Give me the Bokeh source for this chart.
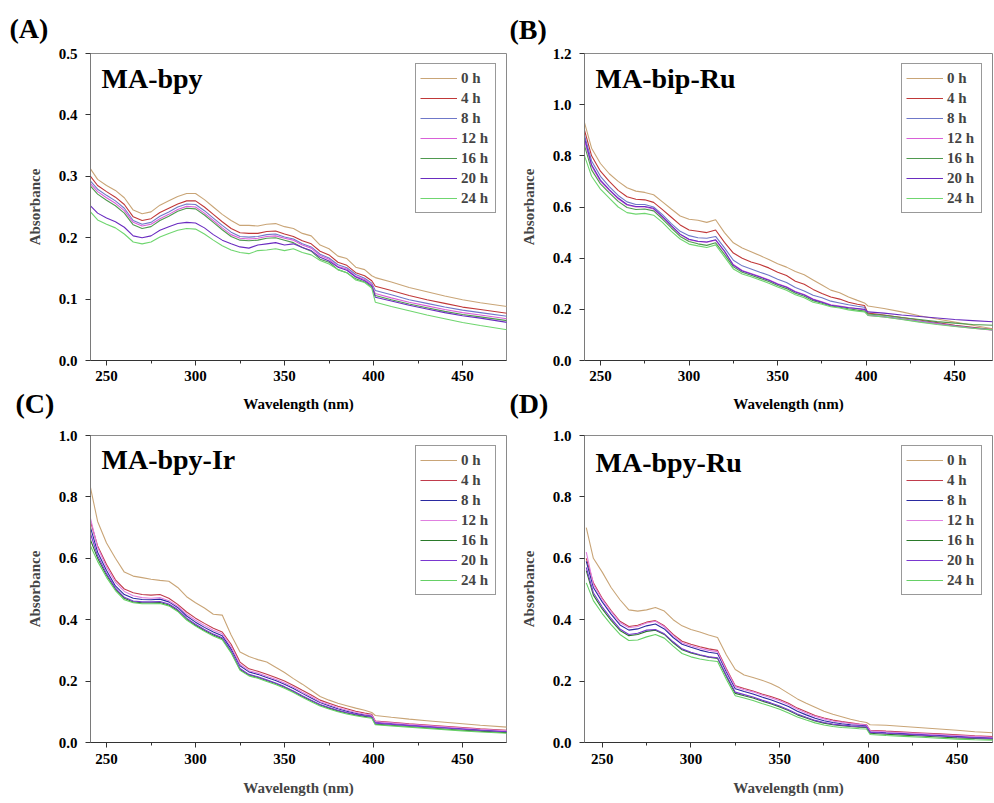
from bokeh.plotting import figure
from bokeh.layouts import gridplot
from bokeh.models import (Range1d, Label, Title, Legend, LegendItem, SingleIntervalTicker,
                          FixedTicker, NumeralTickFormatter)
from bokeh.embed import file_html
from bokeh.resources import INLINE

# ---------------- data ----------------
WAVELENGTH = [241, 245, 250, 255, 260, 265, 270, 275, 280, 285,
              290, 295, 300, 305, 310, 315, 320, 325, 330, 335,
              340, 345, 350, 355, 360, 365, 370, 375, 380, 385,
              390, 395, 399, 401, 410, 420, 430, 440, 450, 460, 475]
HOURS = ["0 h", "4 h", "8 h", "12 h", "16 h", "20 h", "24 h"]

Y_TICKS_A = [0.0, 0.1, 0.2, 0.3, 0.4, 0.5]
Y_TICKS_B = [0.0, 0.2, 0.4, 0.6, 0.8, 1.0, 1.2]
Y_TICKS_CD = [0.0, 0.2, 0.4, 0.6, 0.8, 1.0]

# (A) MA-bpy
A_0h = [0.312, 0.295, 0.285, 0.277, 0.265, 0.245, 0.239, 0.242, 0.253, 0.260,
        0.267, 0.272, 0.272, 0.262, 0.250, 0.238, 0.228, 0.220, 0.220, 0.219,
        0.222, 0.223, 0.218, 0.215, 0.207, 0.203, 0.188, 0.182, 0.170, 0.166,
        0.152, 0.148, 0.138, 0.135, 0.128, 0.119, 0.112, 0.105, 0.099, 0.094, 0.088]
A_4h = [0.300, 0.285, 0.275, 0.266, 0.254, 0.234, 0.228, 0.231, 0.241, 0.248,
        0.255, 0.260, 0.260, 0.250, 0.238, 0.226, 0.215, 0.208, 0.207, 0.207,
        0.210, 0.211, 0.206, 0.202, 0.195, 0.190, 0.178, 0.172, 0.160, 0.155,
        0.143, 0.138, 0.130, 0.121, 0.114, 0.106, 0.099, 0.093, 0.087, 0.083, 0.077]
A_8h = [0.292, 0.279, 0.269, 0.260, 0.248, 0.228, 0.222, 0.225, 0.235, 0.242,
        0.250, 0.255, 0.254, 0.244, 0.232, 0.220, 0.209, 0.202, 0.201, 0.202,
        0.205, 0.206, 0.201, 0.198, 0.190, 0.185, 0.173, 0.167, 0.156, 0.151,
        0.140, 0.134, 0.126, 0.114, 0.107, 0.099, 0.093, 0.087, 0.082, 0.078, 0.072]
A_12h = [0.288, 0.275, 0.265, 0.256, 0.244, 0.225, 0.219, 0.222, 0.231, 0.238,
         0.246, 0.251, 0.250, 0.240, 0.228, 0.216, 0.205, 0.199, 0.198, 0.199,
         0.202, 0.203, 0.199, 0.196, 0.188, 0.183, 0.171, 0.165, 0.153, 0.149,
         0.137, 0.132, 0.124, 0.109, 0.102, 0.095, 0.089, 0.083, 0.078, 0.074, 0.068]
A_16h = [0.284, 0.271, 0.261, 0.252, 0.240, 0.221, 0.215, 0.218, 0.228, 0.235,
         0.243, 0.248, 0.247, 0.237, 0.225, 0.213, 0.202, 0.196, 0.195, 0.196,
         0.199, 0.200, 0.196, 0.192, 0.184, 0.178, 0.165, 0.160, 0.148, 0.143,
         0.133, 0.128, 0.120, 0.106, 0.099, 0.092, 0.086, 0.080, 0.075, 0.071, 0.065]
A_20h = [0.252, 0.240, 0.232, 0.226, 0.217, 0.203, 0.200, 0.203, 0.212, 0.218,
         0.223, 0.225, 0.224, 0.216, 0.205, 0.196, 0.190, 0.185, 0.183, 0.188,
         0.190, 0.192, 0.188, 0.190, 0.184, 0.179, 0.168, 0.162, 0.152, 0.147,
         0.136, 0.130, 0.122, 0.103, 0.097, 0.090, 0.084, 0.078, 0.073, 0.069, 0.062]
A_24h = [0.242, 0.229, 0.222, 0.216, 0.206, 0.193, 0.190, 0.193, 0.201, 0.207,
         0.212, 0.215, 0.214, 0.206, 0.196, 0.187, 0.180, 0.176, 0.174, 0.179,
         0.180, 0.182, 0.179, 0.182, 0.176, 0.172, 0.163, 0.157, 0.148, 0.143,
         0.131, 0.127, 0.118, 0.095, 0.088, 0.081, 0.074, 0.068, 0.062, 0.057, 0.050]

# (B) MA-bip-Ru
B_0h = [0.930, 0.830, 0.770, 0.730, 0.700, 0.675, 0.662, 0.657, 0.648, 0.620,
        0.592, 0.565, 0.552, 0.548, 0.540, 0.550, 0.500, 0.460, 0.440, 0.425,
        0.410, 0.395, 0.378, 0.365, 0.348, 0.335, 0.315, 0.295, 0.275, 0.265,
        0.248, 0.235, 0.225, 0.213, 0.203, 0.190, 0.175, 0.162, 0.150, 0.138, 0.120]
B_4h = [0.900, 0.800, 0.740, 0.700, 0.665, 0.640, 0.630, 0.628, 0.618, 0.590,
        0.560, 0.530, 0.510, 0.505, 0.500, 0.510, 0.462, 0.420, 0.400, 0.385,
        0.375, 0.362, 0.345, 0.332, 0.310, 0.298, 0.278, 0.262, 0.248, 0.240,
        0.228, 0.220, 0.215, 0.185, 0.178, 0.168, 0.158, 0.148, 0.138, 0.130, 0.118]
B_8h = [0.880, 0.780, 0.720, 0.680, 0.645, 0.620, 0.610, 0.610, 0.600, 0.570,
        0.535, 0.505, 0.488, 0.480, 0.478, 0.485, 0.440, 0.392, 0.370, 0.358,
        0.345, 0.333, 0.318, 0.305, 0.285, 0.272, 0.255, 0.245, 0.232, 0.225,
        0.218, 0.212, 0.208, 0.178, 0.172, 0.163, 0.154, 0.145, 0.136, 0.128, 0.117]
B_12h = [0.860, 0.760, 0.700, 0.665, 0.632, 0.608, 0.600, 0.600, 0.592, 0.560,
         0.525, 0.492, 0.472, 0.465, 0.462, 0.470, 0.425, 0.375, 0.352, 0.340,
         0.328, 0.316, 0.300, 0.288, 0.270, 0.258, 0.240, 0.230, 0.218, 0.213,
         0.207, 0.202, 0.198, 0.176, 0.170, 0.161, 0.152, 0.143, 0.134, 0.126, 0.116]
B_16h = [0.840, 0.745, 0.690, 0.655, 0.622, 0.598, 0.590, 0.592, 0.585, 0.553,
         0.518, 0.485, 0.465, 0.456, 0.450, 0.460, 0.415, 0.366, 0.345, 0.333,
         0.321, 0.309, 0.293, 0.281, 0.263, 0.251, 0.234, 0.224, 0.213, 0.208,
         0.202, 0.197, 0.193, 0.182, 0.177, 0.168, 0.160, 0.152, 0.146, 0.141, 0.137]
B_20h = [0.870, 0.765, 0.705, 0.668, 0.635, 0.610, 0.602, 0.602, 0.595, 0.562,
         0.527, 0.494, 0.474, 0.466, 0.463, 0.472, 0.428, 0.372, 0.350, 0.338,
         0.326, 0.314, 0.298, 0.286, 0.268, 0.256, 0.238, 0.228, 0.216, 0.211,
         0.206, 0.203, 0.200, 0.190, 0.185, 0.178, 0.172, 0.166, 0.160, 0.156, 0.150]
B_24h = [0.800, 0.720, 0.670, 0.635, 0.600, 0.578, 0.572, 0.575, 0.568, 0.540,
         0.505, 0.475, 0.455, 0.448, 0.442, 0.452, 0.405, 0.358, 0.338, 0.327,
         0.315, 0.302, 0.287, 0.275, 0.257, 0.245, 0.228, 0.220, 0.210, 0.205,
         0.198, 0.193, 0.190, 0.176, 0.170, 0.160, 0.150, 0.141, 0.133, 0.126, 0.118]

# (C) MA-bpy-Ir
C_0h = [0.830, 0.720, 0.650, 0.600, 0.555, 0.542, 0.537, 0.532, 0.528, 0.525,
        0.505, 0.475, 0.455, 0.438, 0.418, 0.415, 0.350, 0.295, 0.280, 0.270,
        0.262, 0.245, 0.228, 0.208, 0.190, 0.170, 0.150, 0.138, 0.128, 0.120,
        0.112, 0.105, 0.098, 0.088, 0.082, 0.076, 0.071, 0.066, 0.061, 0.056, 0.050]
C_4h = [0.720, 0.640, 0.580, 0.530, 0.500, 0.488, 0.482, 0.480, 0.482, 0.470,
        0.450, 0.425, 0.405, 0.388, 0.372, 0.360, 0.320, 0.262, 0.240, 0.232,
        0.222, 0.212, 0.200, 0.186, 0.170, 0.155, 0.138, 0.128, 0.118, 0.110,
        0.102, 0.096, 0.092, 0.070, 0.066, 0.061, 0.057, 0.053, 0.049, 0.045, 0.040]
C_8h = [0.700, 0.620, 0.560, 0.510, 0.482, 0.470, 0.466, 0.465, 0.467, 0.458,
        0.440, 0.412, 0.392, 0.375, 0.360, 0.348, 0.305, 0.250, 0.230, 0.222,
        0.212, 0.202, 0.190, 0.176, 0.160, 0.145, 0.130, 0.120, 0.110, 0.102,
        0.095, 0.090, 0.087, 0.066, 0.062, 0.057, 0.053, 0.049, 0.045, 0.041, 0.036]
C_12h = [0.730, 0.635, 0.572, 0.522, 0.492, 0.478, 0.472, 0.470, 0.472, 0.462,
         0.444, 0.418, 0.398, 0.381, 0.366, 0.354, 0.312, 0.255, 0.234, 0.226,
         0.216, 0.206, 0.194, 0.180, 0.164, 0.149, 0.133, 0.123, 0.113, 0.105,
         0.098, 0.092, 0.089, 0.068, 0.064, 0.059, 0.055, 0.051, 0.047, 0.043, 0.038]
C_16h = [0.660, 0.600, 0.545, 0.500, 0.470, 0.458, 0.455, 0.455, 0.456, 0.448,
         0.430, 0.402, 0.382, 0.365, 0.350, 0.338, 0.295, 0.238, 0.220, 0.212,
         0.202, 0.192, 0.180, 0.166, 0.150, 0.136, 0.122, 0.112, 0.103, 0.096,
         0.090, 0.085, 0.082, 0.060, 0.056, 0.052, 0.048, 0.044, 0.040, 0.037, 0.032]
C_20h = [0.680, 0.608, 0.550, 0.503, 0.473, 0.461, 0.458, 0.458, 0.459, 0.451,
         0.433, 0.405, 0.385, 0.368, 0.353, 0.341, 0.298, 0.241, 0.222, 0.214,
         0.204, 0.194, 0.182, 0.168, 0.152, 0.138, 0.124, 0.114, 0.105, 0.098,
         0.092, 0.087, 0.084, 0.063, 0.059, 0.055, 0.051, 0.047, 0.043, 0.039, 0.035]
C_24h = [0.640, 0.590, 0.538, 0.495, 0.465, 0.455, 0.452, 0.452, 0.453, 0.445,
         0.427, 0.399, 0.379, 0.362, 0.347, 0.335, 0.292, 0.235, 0.217, 0.209,
         0.199, 0.189, 0.177, 0.163, 0.147, 0.133, 0.119, 0.109, 0.100, 0.093,
         0.087, 0.082, 0.079, 0.058, 0.054, 0.050, 0.046, 0.042, 0.038, 0.034, 0.030]

# (D) MA-bpy-Ru
D_0h = [0.700, 0.600, 0.555, 0.505, 0.465, 0.432, 0.428, 0.432, 0.440, 0.428,
        0.400, 0.380, 0.368, 0.360, 0.350, 0.342, 0.285, 0.238, 0.220, 0.212,
        0.203, 0.192, 0.178, 0.160, 0.142, 0.128, 0.115, 0.102, 0.092, 0.084,
        0.076, 0.069, 0.065, 0.058, 0.056, 0.052, 0.048, 0.044, 0.040, 0.035, 0.030]
D_4h = [0.600, 0.520, 0.470, 0.430, 0.395, 0.378, 0.382, 0.392, 0.397, 0.380,
        0.352, 0.330, 0.320, 0.312, 0.305, 0.300, 0.240, 0.185, 0.176, 0.168,
        0.158, 0.150, 0.140, 0.128, 0.112, 0.100, 0.088, 0.080, 0.073, 0.068,
        0.064, 0.060, 0.058, 0.040, 0.037, 0.034, 0.031, 0.028, 0.025, 0.022, 0.018]
D_8h = [0.590, 0.505, 0.458, 0.418, 0.383, 0.366, 0.370, 0.380, 0.386, 0.370,
        0.342, 0.320, 0.310, 0.301, 0.294, 0.290, 0.230, 0.175, 0.166, 0.158,
        0.148, 0.139, 0.129, 0.117, 0.102, 0.090, 0.079, 0.071, 0.065, 0.061,
        0.058, 0.056, 0.055, 0.035, 0.032, 0.029, 0.026, 0.023, 0.020, 0.017, 0.014]
D_12h = [0.620, 0.515, 0.466, 0.426, 0.391, 0.374, 0.378, 0.389, 0.395, 0.377,
         0.348, 0.325, 0.315, 0.307, 0.300, 0.296, 0.236, 0.182, 0.172, 0.165,
         0.155, 0.146, 0.136, 0.124, 0.108, 0.096, 0.085, 0.077, 0.070, 0.066,
         0.062, 0.059, 0.057, 0.038, 0.035, 0.032, 0.029, 0.026, 0.023, 0.020, 0.016]
D_16h = [0.560, 0.480, 0.435, 0.398, 0.365, 0.348, 0.352, 0.362, 0.366, 0.352,
         0.325, 0.302, 0.292, 0.284, 0.278, 0.274, 0.215, 0.160, 0.152, 0.145,
         0.135, 0.126, 0.116, 0.104, 0.090, 0.080, 0.070, 0.063, 0.058, 0.055,
         0.052, 0.050, 0.049, 0.030, 0.027, 0.024, 0.021, 0.018, 0.015, 0.013, 0.010]
D_20h = [0.570, 0.488, 0.442, 0.404, 0.370, 0.352, 0.356, 0.366, 0.368, 0.354,
         0.328, 0.305, 0.294, 0.286, 0.279, 0.276, 0.218, 0.164, 0.156, 0.148,
         0.138, 0.129, 0.119, 0.107, 0.093, 0.082, 0.072, 0.065, 0.060, 0.057,
         0.054, 0.052, 0.051, 0.033, 0.030, 0.027, 0.024, 0.021, 0.018, 0.015, 0.012]
D_24h = [0.520, 0.462, 0.420, 0.384, 0.352, 0.332, 0.334, 0.344, 0.352, 0.340,
         0.314, 0.290, 0.279, 0.272, 0.267, 0.264, 0.205, 0.152, 0.145, 0.137,
         0.127, 0.118, 0.108, 0.096, 0.083, 0.073, 0.064, 0.057, 0.052, 0.049,
         0.047, 0.045, 0.044, 0.026, 0.023, 0.020, 0.017, 0.014, 0.011, 0.009, 0.007]

# ---------------- styling ----------------
COLORS_TOP = ["#c9a577", "#c03838", "#6f78c8", "#d860d8", "#4f9a4f", "#6a2cc0", "#6fd66f"]
COLORS_BOT = ["#c9a577", "#c03c4c", "#2a2aa0", "#e080e0", "#2a7a2a", "#7a38d0", "#66d066"]
SERIF = "Liberation Serif"
XLABEL = "Wavelength (nm)"


def make_panel(letter, name, series, colors, x_start, x_end, y_max, y_ticks,
               frame_w, borders, letter_y, name_y, top_row):
    left, right, top, bottom = borders
    p = figure(frame_width=frame_w, frame_height=307,
               min_border_left=left, min_border_right=right,
               min_border_top=top, min_border_bottom=bottom,
               x_range=Range1d(x_start, x_end), y_range=Range1d(0, y_max),
               output_backend="svg", toolbar_location=None, tools="",
               title_location=None)
    p.xgrid.grid_line_color = None
    p.ygrid.grid_line_color = None
    p.background_fill_color = "white"
    p.border_fill_color = "white"
    p.outline_line_color = "#8a8a8a"
    p.outline_line_width = 1

    items = []
    for lab, ys, col in zip(HOURS, series, colors):
        r = p.line(WAVELENGTH, ys, line_color=col, line_width=1.1)
        items.append(LegendItem(label=lab, renderers=[r]))

    legend = Legend(items=items, location="top_right", margin=10,
                    label_text_font=SERIF, label_text_font_style="bold",
                    label_text_font_size="15px", label_height=20, glyph_height=20,
                    glyph_width=37, label_width=30, label_standoff=4, spacing=0, padding=4,
                    border_line_color="#333333", border_line_width=1.5,
                    background_fill_color="white", background_fill_alpha=1.0)
    p.add_layout(legend)

    # x axis
    p.xaxis.ticker = SingleIntervalTicker(interval=50, num_minor_ticks=2)
    p.xaxis.major_label_text_font = SERIF
    p.xaxis.major_label_text_font_style = "bold"
    p.xaxis.major_label_text_font_size = "15px"
    p.xaxis.major_label_text_color = "black"
    p.xaxis.major_label_standoff = 5 if top_row else 6
    p.xaxis.axis_line_color = "#333333"
    p.xaxis.major_tick_line_color = "#333333"
    p.xaxis.minor_tick_line_color = "#333333"
    p.xaxis.major_tick_out = 5
    p.xaxis.major_tick_in = 0
    p.xaxis.minor_tick_out = 3
    p.xaxis.minor_tick_in = 0
    if not top_row:
        p.xaxis.axis_label = XLABEL
        p.xaxis.axis_label_text_font = SERIF
        p.xaxis.axis_label_text_font_style = "bold"
        p.xaxis.axis_label_text_font_size = "15px"
        p.xaxis.axis_label_standoff = 13

    # y axis
    p.yaxis.ticker = FixedTicker(ticks=y_ticks)
    p.yaxis.formatter = NumeralTickFormatter(format="0.0")
    p.yaxis.axis_label = "Absorbance"
    p.yaxis.axis_label_text_font = SERIF
    p.yaxis.axis_label_text_font_style = "bold"
    p.yaxis.axis_label_text_font_size = "15px"
    p.yaxis.axis_label_standoff = 13
    p.yaxis.major_label_text_font = SERIF
    p.yaxis.major_label_text_font_style = "bold"
    p.yaxis.major_label_text_font_size = "15px"
    p.yaxis.major_label_text_color = "black"
    p.yaxis.major_label_standoff = 8
    p.yaxis.axis_line_color = "#7a7a7a"
    p.yaxis.major_tick_line_color = "#333333"
    p.yaxis.minor_tick_line_color = None
    p.yaxis.major_tick_out = 5
    p.yaxis.major_tick_in = 0

    # sample name inside the frame
    p.add_layout(Label(x=11, y=name_y, x_units="screen", y_units="screen", text=name,
                       text_font=SERIF, text_font_style="bold", text_font_size="28px",
                       text_baseline="middle", text_align="left", text_color="black"))

    # panel letter, in the panel above the frame (not clipped there)
    p.add_layout(Label(x=letter[1], y=letter_y, x_units="screen", y_units="screen",
                       text=letter[0], text_font=SERIF, text_font_style="bold",
                       text_font_size="28px", text_baseline="middle",
                       text_align="left", text_color="black"), "above")
    if not top_row:
        # x-axis title of the panel above, drawn in this figure's top border
        p.add_layout(Title(text=XLABEL, align="center", vertical_align="top",
                           standoff=-18, text_font=SERIF, text_font_style="bold",
                           text_font_size="15px", text_color="black"), "above")
    return p


pA = make_panel(("(A)", -81), "MA-bpy", [A_0h, A_4h, A_8h, A_12h, A_16h, A_20h, A_24h],
                COLORS_TOP, 241, 474.7, 0.5, Y_TICKS_A, 416, (90, 2, 53, 27), 25, 282, True)
pB = make_panel(("(B)", -75), "MA-bip-Ru", [B_0h, B_4h, B_8h, B_12h, B_16h, B_20h, B_24h],
                COLORS_TOP, 241, 471.25, 1.2, Y_TICKS_B, 408, (76, 1, 53, 27), 24, 282, True)
pC = make_panel(("(C)", -75), "MA-bpy-Ir", [C_0h, C_4h, C_8h, C_12h, C_16h, C_20h, C_24h],
                COLORS_BOT, 241, 474.7, 1.0, Y_TICKS_CD, 416, (90, 2, 48, 60), 32, 283, False)
pD = make_panel(("(D)", -75), "MA-bpy-Ru", [D_0h, D_4h, D_8h, D_12h, D_16h, D_20h, D_24h],
                COLORS_BOT, 240, 470.0, 1.0, Y_TICKS_CD, 408, (76, 1, 48, 60), 32, 280, False)

grid = gridplot([[pA, pB], [pC, pD]], toolbar_location=None)

with open("out.html", "w") as f:
    f.write(file_html(grid, INLINE))
